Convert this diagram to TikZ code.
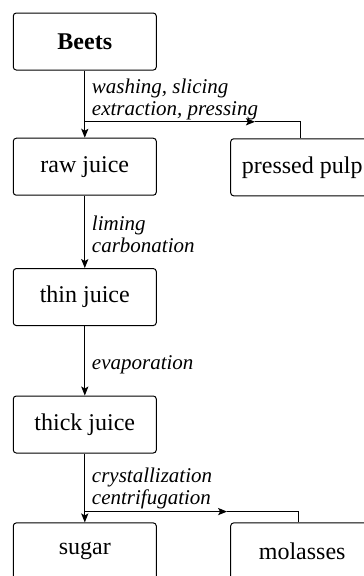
\documentclass[tikz,border=0pt]{standalone}
\usepackage{fontspec}
\setmainfont{Liberation Serif}
\usetikzlibrary{arrows.meta}
\tikzset{
	stage/.style={draw,rounded corners=1.5pt,minimum width=71.5pt,minimum height=28.5pt,font=\fontsize{12}{14}\selectfont},
	step label/.style={anchor=west,align=left,font=\fontsize{10.5}{11}\selectfont\itshape},
	flow/.style={-{Stealth[length=4.5pt,width=3.6pt,inset=1pt]}}
}
\begin{document}
	\begin{tikzpicture}[line width=0.5pt]
		\useasboundingbox (0,0) rectangle (181.5pt,-288pt);
		\node[stage] (beets) at (1.49,-0.73) {\textbf{Beets}};
		\node[stage] (raw) at (1.49,-2.93) {raw juice};
		\node[stage] (thin) at (1.49,-5.22) {thin juice};
		\node[stage] (thick) at (1.49,-7.46) {thick juice};
		\node[stage] (sugar) at (1.49,-9.69) {sugar};
		\node[stage] (pulp) at (5.31,-2.94) {pressed pulp};
		\node[stage,anchor=north west] (molasses) at (sugar.north west -| pulp.west) {molasses};
		% main line
		\draw[flow] (beets) -- (raw);
		\draw[flow] (raw) -- (thin);
		\draw[flow] (thin) -- (thick);
		\draw[flow] (thick) -- (sugar);
		% side products
		\coordinate (split1) at (1.49,-2.14);
		\coordinate (tip1) at (4.48,-2.14);
		\draw[flow] (split1) -- (tip1);
		\draw (tip1) -| ([xshift=-1pt]pulp.north);
		\coordinate (split2) at (1.49,-8.99);
		\coordinate (tip2) at (3.99,-8.99);
		\draw[flow] (split2) -- (tip2);
		\draw (tip2) -| ([xshift=-2pt]molasses.north);
		% labels
		\node[step label] (wash) at (1.49,-1.74) {washing, slicing\\extraction, pressing};
		\node[step label] (lime) at (1.49,-4.11) {liming\\carbonation};
		\node[step label] (evap) at (1.49,-6.41) {evaporation};
		\node[step label] (cryst) at (1.49,-8.58) {crystallization\\centrifugation};
	\end{tikzpicture}
\end{document}
